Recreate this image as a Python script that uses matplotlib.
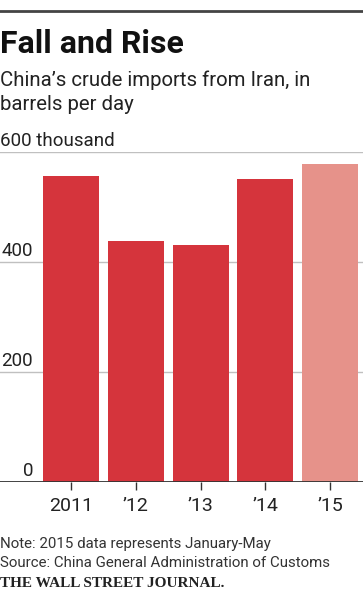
import matplotlib.pyplot as plt
from matplotlib.lines import Line2D

years = ["2011", "\u201912", "\u201913", "\u201914", "\u201915"]
imports = [557, 439, 430, 551, 578]
partial = [False, False, False, False, True]
yticks = [0, 200, 400, 600]

plt.rcParams["font.family"] = ["Liberation Sans Narrow", "Roboto", "DejaVu Sans"]

W, H = 363, 600
fig = plt.figure(figsize=(W / 100, H / 100), dpi=100)
ax = fig.add_axes([0, 1 - 482 / H, 1, 330 / H])

pitch = 64.75
x = list(range(len(years)))
colors = ["#e6928a" if p else "#d5343c" for p in partial]
ax.bar(x, imports, width=56 / pitch, color=colors, zorder=2)

ax.set_xlim(-71 / pitch, (W - 71) / pitch)
ax.set_ylim(0, 600)
for s in ax.spines.values():
    s.set_visible(False)
ax.set_yticks([])
ax.set_xticks(x)
ax.set_xticklabels(years, fontsize=14, color="#222222")
ax.tick_params(axis="x", length=6, width=1, color="#333333", pad=5)

for v in yticks[1:]:
    ax.axhline(v, color="#c0c0c0", lw=1, zorder=1)
ax.axhline(0, color="#333333", lw=1.3, zorder=3)

xf = ax.get_yaxis_transform()
for v in yticks:
    if v == 600:
        fig.text(0, 1 - 146 / H, "600 thousand", fontsize=13.5, color="#222222",
                 ha="left", va="baseline")
    else:
        ax.text(33 / W, v + 11, str(v), transform=xf, fontsize=13.5,
                color="#222222", ha="right", va="baseline")

fig.add_artist(Line2D([0, 362 / W], [1 - 11 / H, 1 - 11 / H], color="#444444", lw=2))
fig.text(0, 1 - 53 / H, "Fall and Rise", fontsize=23, fontweight="bold",
         color="#111111", ha="left", va="baseline")
fig.text(0, 1 - 86 / H, "China\u2019s crude imports from Iran, in", fontsize=14.7,
         color="#222222", ha="left", va="baseline")
fig.text(0, 1 - 110 / H, "barrels per day", fontsize=14.7,
         color="#222222", ha="left", va="baseline")

fig.text(0, 1 - 548 / H, "Note: 2015 data represents January-May", fontsize=10.8,
         color="#333333", ha="left", va="baseline")
fig.text(0, 1 - 567 / H, "Source: China General Administration of Customs", fontsize=10.8,
         color="#333333", ha="left", va="baseline")
fig.text(0, 1 - 587 / H, "THE WALL STREET JOURNAL.", fontsize=11,
         fontweight="bold", family="Liberation Serif", color="#222222",
         ha="left", va="baseline")

fig.savefig("out.png", dpi=100)
